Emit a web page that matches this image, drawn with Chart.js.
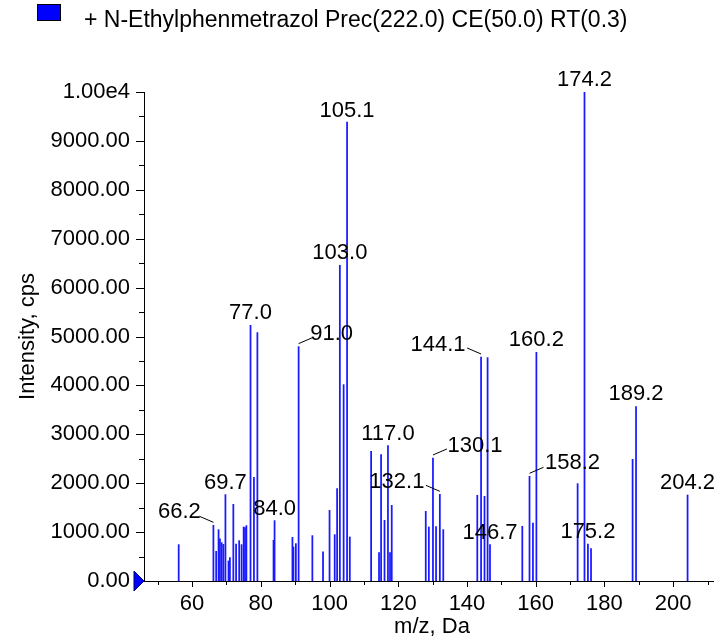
<!DOCTYPE html>
<html>
<head>
<meta charset="utf-8">
<script src="https://cdn.jsdelivr.net/npm/chart.js@4.4.0/dist/chart.umd.min.js"></script>
<style>
  html, body { margin: 0; padding: 0; background: #fff; overflow: hidden; }
  canvas { display: block; }
</style>
</head>
<body>
<canvas id="spectrum" width="715" height="640"></canvas>
<script>
// peak list (m/z and intensity in cps)
const mz = [
  56.1, 66.2, 67.0, 67.7, 68.1, 68.6, 69.1, 69.7, 70.6, 71.0,
  72.0, 72.8, 73.7, 74.4, 75.0, 75.4, 75.8, 77.0, 78.0, 79.0,
  83.7, 84.0, 89.2, 89.5, 90.2, 91.0, 95.0, 98.1, 100.0, 101.5,
  102.2, 103.0, 104.1, 105.1, 105.9, 112.1, 114.4, 115.0, 116.0, 117.0,
  117.6, 118.1, 128.0, 128.9, 130.1, 131.0, 132.1, 133.1, 143.0, 144.1,
  145.1, 146.0, 146.7, 156.1, 158.2, 159.2, 160.2, 172.2, 174.2, 175.2,
  176.1, 188.2, 189.2, 204.2
];
const intensity = [
  744, 1139, 607, 1050, 860, 785, 750, 1767, 410, 478,
  1569, 757, 826, 744, 1105, 1092, 1133, 5229, 2120, 5080,
  832, 1235, 893, 696, 764, 4793, 928, 594, 1446, 948,
  1890, 6456, 4016, 9387, 900, 2652, 580, 2585, 1241, 2769,
  580, 1548, 1425, 1105, 2516, 1112, 1773, 1051, 1753, 4581,
  1732, 4568, 744, 1119, 2141, 1187, 4677, 1991, 10000, 757,
  662, 2488, 3566, 1759
];

// peaks that carry a label
const labelMz = [66.2, 69.7, 77.0, 84.0, 91.0, 103.0, 105.1, 117.0, 130.1,
                 132.1, 144.1, 146.7, 158.2, 160.2, 174.2, 175.2, 189.2, 204.2];

// text centre offset from the top of the peak (px), side labels get a leader line
const labelOffsets = [[-34, -13], [0, -12], [0, -12], [0, -12], [33, -13], [0, -12], [0, -11], [0, -12], [42, -12],
                      [-43, -12], [-43, -12], [0, -12], [43, -13], [0, -12], [0, -12], [0, -12], [0, -13], [0, -12]];

const seriesName = '+ N-Ethylphenmetrazol Prec(222.0) CE(50.0) RT(0.3)';

const FONT = 'Arial, "Liberation Sans", sans-serif';

// draws ticks, labels, legend and axis titles
const decorations = {
  id: 'decorations',
  afterDraw(chart) {
    const { ctx, chartArea: area, scales: { x, y } } = chart;
    ctx.save();

    // y ticks (major every 1000, minor every 500)
    ctx.strokeStyle = '#000';
    ctx.lineWidth = 1;
    ctx.beginPath();
    for (let v = 500; v <= 10000; v += 500) {
      const py = Math.round(y.getPixelForValue(v)) + 0.5;
      const len = v % 1000 === 0 ? 8 : 5;
      ctx.moveTo(area.left - len, py);
      ctx.lineTo(area.left, py);
    }
    // x ticks (major every 20, minor every 10)
    for (let v = 50; v <= 210; v += 10) {
      const px = Math.round(x.getPixelForValue(v)) + 0.5;
      const len = v % 20 === 0 ? 6 : 4;
      ctx.moveTo(px, area.bottom);
      ctx.lineTo(px, area.bottom + len);
    }
    ctx.stroke();

    // blue marker at the origin
    const oy = y.getPixelForValue(0);
    ctx.fillStyle = '#0000ff';
    ctx.strokeStyle = '#000066';
    ctx.beginPath();
    ctx.moveTo(area.left - 10, oy - 10);
    ctx.lineTo(area.left, oy);
    ctx.lineTo(area.left - 10, oy + 10);
    ctx.closePath();
    ctx.fill();
    ctx.stroke();

    // peak labels
    ctx.font = '22px ' + FONT;
    ctx.fillStyle = '#000';
    ctx.strokeStyle = '#000';
    ctx.textAlign = 'center';
    ctx.textBaseline = 'middle';
    labelMz.forEach((m, i) => {
      const k = mz.indexOf(m);
      const px = x.getPixelForValue(m);
      const py = y.getPixelForValue(intensity[k]);
      const [dx, dy] = labelOffsets[i];
      ctx.fillText(m.toFixed(1), px + dx, py + dy);
      if (dx !== 0) {
        const s = Math.sign(dx);
        ctx.beginPath();
        ctx.moveTo(px, py - 3);
        ctx.lineTo(px + s * 14, py - 9);
        ctx.stroke();
      }
    });

    // legend
    ctx.fillStyle = '#0000ff';
    ctx.fillRect(37.5, 4.5, 23, 16);
    ctx.strokeStyle = '#000';
    ctx.strokeRect(37.5, 4.5, 23, 16);
    ctx.fillStyle = '#000';
    ctx.font = '23px ' + FONT;
    ctx.textAlign = 'left';
    ctx.textBaseline = 'alphabetic';
    ctx.fillText(seriesName, 84, 27);

    // axis titles
    ctx.font = '22px ' + FONT;
    ctx.textAlign = 'center';
    ctx.textBaseline = 'middle';
    ctx.fillText('m/z, Da', 432, 627);
    ctx.save();
    ctx.translate(28, (area.top + area.bottom) / 2);
    ctx.rotate(-Math.PI / 2);
    ctx.fillText('Intensity, cps', 0, 0);
    ctx.restore();

    ctx.restore();
  }
};

const ctx = document.getElementById('spectrum').getContext('2d');
new Chart(ctx, {
  type: 'bar',
  data: {
    datasets: [{
      data: mz.map((m, i) => ({ x: m, y: intensity[i] })),
      backgroundColor: '#1a1aff',
      barThickness: 1.1,
      borderWidth: 0
    }]
  },
  options: {
    responsive: false,
    animation: false,
    devicePixelRatio: 1,
    layout: { padding: { top: 92, left: 0, right: 0, bottom: 0 } },
    plugins: {
      legend: { display: false },
      tooltip: { enabled: false }
    },
    scales: {
      x: {
        type: 'linear',
        offset: false,
        min: 46,
        max: 211.6,
        grid: { display: false },
        border: { display: true, color: '#000', width: 1 },
        ticks: {
          stepSize: 10,
          autoSkip: false,
          maxRotation: 0,
          padding: 2,
          color: '#000',
          font: { family: FONT, size: 22 },
          callback: v => (v % 20 === 0 ? String(v) : '')
        },
        afterFit(scale) { scale.height = 59; }
      },
      y: {
        min: 0,
        max: 10000,
        grid: { display: false },
        border: { display: true, color: '#000', width: 1 },
        ticks: {
          stepSize: 1000,
          padding: 6,
          color: '#000',
          font: { family: FONT, size: 22 },
          callback: v => (v === 10000 ? '1.00e4' : v.toFixed(2))
        },
        afterFit(scale) { scale.width = 144; }
      }
    }
  },
  plugins: [decorations]
});
</script>
</body>
</html>
